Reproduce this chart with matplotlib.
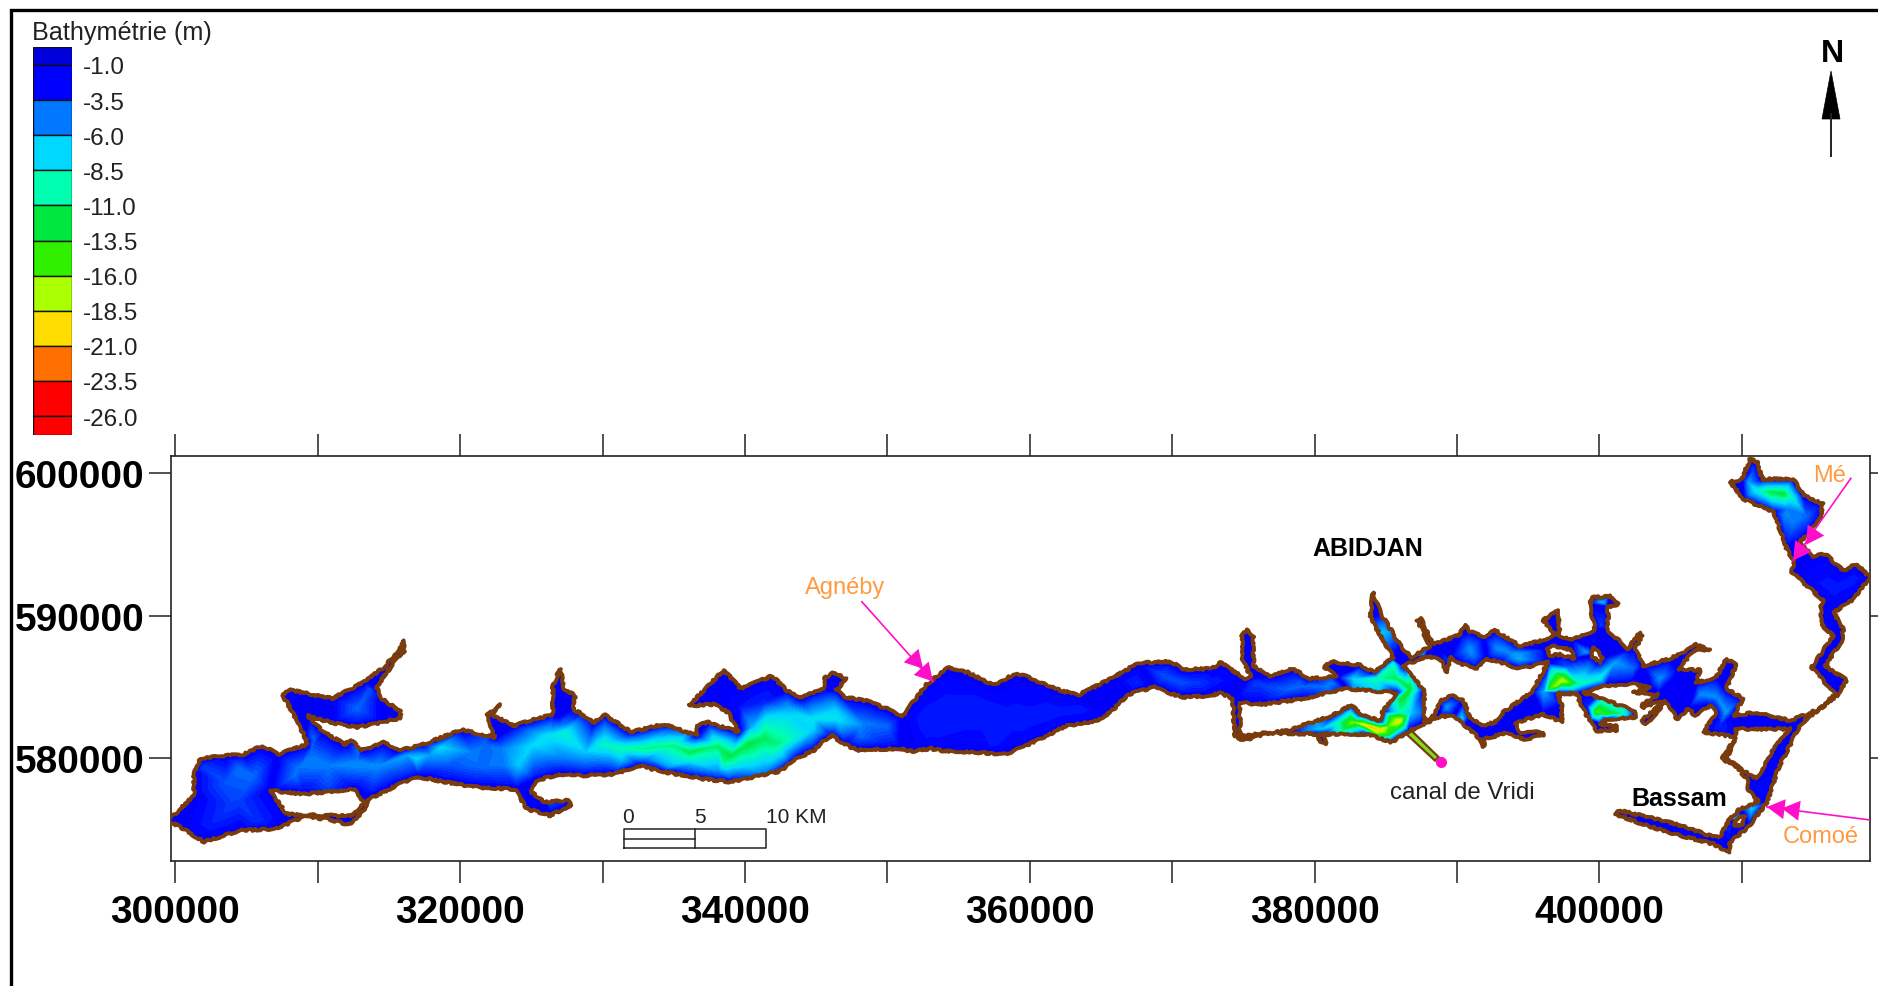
import matplotlib
matplotlib.use("Agg")
import matplotlib.pyplot as plt
import numpy as np
from matplotlib.colors import LinearSegmentedColormap
from matplotlib.patches import Polygon
from matplotlib.tri import Triangulation

plt.rcParams["font.family"] = ["Liberation Sans", "DejaVu Sans"]

# legend
legend_labels = ["-1.0", "-3.5", "-6.0", "-8.5", "-11.0", "-13.5", "-16.0", "-18.5", "-21.0", "-23.5", "-26.0"]
legend_depths = [-1.0, -3.5, -6.0, -8.5, -11.0, -13.5, -16.0, -18.5, -21.0, -23.5, -26.0]
legend_colors = ["#0000dd", "#0000ff", "#0078ff", "#00d8ff", "#00ffb0", "#00e840",
                 "#30f000", "#aaff00", "#ffdd00", "#ff7000", "#ff0000", "#ff0000"]

# shoreline of the lagoon, km (UTM), north shore west to east
north_shore = [
    (299.5, 575.65), (301.3, 577.4), (301.3, 579.0), (301.7, 580.0), (303.6, 580.2), (304.8, 580.3), (306.1, 580.9),
    (307.2, 580.3), (309.3, 581.0), (309.0, 581.7), (308.4, 582.9), (307.5, 584.5), (308.1, 584.8), (311.0, 584.2),
    (313.3, 585.4), (314.5, 586.3), (315.7, 587.5), (316.0, 588.3), (316.1, 587.5), (315.4, 586.8), (314.1, 585.0),
    (314.5, 584.2), (315.8, 583.3), (315.8, 582.8), (314.5, 582.55), (312.8, 582.2), (311.0, 582.5), (309.3, 583.0),
    (310.4, 581.85), (311.9, 581.0), (312.3, 581.3), (313.1, 580.6), (314.7, 581.15), (315.7, 580.55), (317.4, 581.0),
    (320.1, 582.0), (322.4, 581.5), (321.9, 583.1), (322.8, 583.8), (322.2, 583.1), (323.7, 582.3), (326.5, 583.1),
    (326.5, 585.1), (327.0, 586.3), (327.3, 584.9), (328.05, 584.4), (327.9, 583.5), (329.4, 582.55), (330.1, 583.1),
    (332.0, 581.85), (334.3, 582.4), (336.6, 581.6), (336.6, 582.3), (337.4, 582.55), (339.55, 581.85), (338.8, 583.25),
    (337.8, 583.8), (336.05, 583.7), (338.5, 586.2), (339.7, 584.9), (341.9, 585.8), (342.9, 584.8), (343.85, 584.2),
    (344.8, 584.65), (345.5, 584.9), (345.6, 585.7), (346.3, 586.05), (347.1, 585.6), (346.4, 584.8), (347.0, 584.3),
    (348.5, 584.05), (349.95, 583.5), (351.0, 582.9), (352.75, 585.2), (354.3, 586.4), (355.6, 586.05), (357.4, 585.15),
    (359.1, 586.0), (360.5, 585.45), (361.9, 584.85), (363.4, 584.45), (365.9, 585.7), (367.6, 586.7), (369.95, 586.8),
    (370.7, 586.25), (372.8, 586.3), (373.35, 586.75), (375.1, 585.6), (375.5, 585.8), (374.9, 586.95), (374.9, 588.6),
    (375.25, 589.05), (375.7, 588.5), (375.7, 586.5), (376.85, 585.8), (378.4, 586.3), (379.7, 585.6), (381.55, 585.75),
    (380.7, 586.4), (381.1, 586.8), (383.2, 586.55), (384.2, 586.05), (385.5, 587.1), (383.9, 589.9), (384.1, 591.65),
    (384.6, 590.25), (386.1, 587.8), (386.8, 587.1), (388.1, 587.9), (387.2, 589.7), (387.4, 589.9), (388.35, 588.0),
    (390.2, 588.7), (390.55, 589.4), (390.8, 589.0), (391.85, 588.5), (392.65, 589.0), (394.4, 587.9), (396.05, 588.3),
    (396.9, 588.7), (396.05, 589.7), (397.1, 590.4), (397.2, 588.6), (398.05, 588.4), (399.7, 589.0), (399.3, 590.85),
    (399.55, 591.3), (400.75, 591.4), (401.3, 590.85), (400.6, 590.6), (400.6, 589.0), (402.0, 587.7), (402.85, 588.85),
    (403.0, 588.6), (402.5, 587.7), (403.1, 586.5), (404.95, 587.0), (406.35, 587.7), (406.8, 588.0), (407.75, 587.6),
    (406.8, 587.7), (405.5, 586.3), (407.05, 586.2), (406.8, 585.3), (408.2, 585.7), (408.9, 587.0), (409.6, 586.6),
    (408.9, 584.9), (410.1, 584.2), (409.4, 583.0), (411.05, 583.25), (413.4, 582.65), (415.5, 583.5), (416.55, 584.5),
    (414.9, 586.4), (416.4, 588.6), (415.7, 589.3), (415.5, 590.5), (415.7, 591.1), (413.5, 593.1), (413.7, 593.8),
    (413.15, 594.7), (412.2, 597.3), (410.1, 598.2), (409.2, 599.4), (410.0, 599.6), (410.55, 601.0), (411.15, 600.8),
    (411.4, 599.6), (413.6, 599.6), (414.35, 598.45), (415.7, 597.85), (415.5, 596.8), (414.55, 595.6), (414.0, 595.2),
    (415.0, 594.2), (415.85, 594.35), (417.1, 593.2), (418.05, 593.65), (419.0, 592.7), (417.85, 591.2), (416.45, 590.25),
]
# south shore east to west
south_shore = [
    (417.1, 589.1), (417.1, 588.4), (415.85, 586.5), (417.35, 585.5), (416.65, 584.4), (414.1, 582.4), (412.55, 579.3),
    (411.75, 576.9), (410.45, 575.2), (409.15, 574.1), (409.15, 573.4), (408.0, 574.0), (405.65, 574.6), (403.3, 575.3),
    (401.1, 576.1), (401.45, 576.35), (405.4, 575.4), (408.0, 574.5), (408.45, 574.5), (409.15, 575.75), (409.85, 576.45),
    (411.15, 577.0), (410.45, 577.85), (410.35, 578.6), (409.4, 579.6), (408.6, 579.95), (409.3, 581.1), (409.6, 581.5),
    (407.3, 581.85), (408.2, 583.25), (407.75, 583.7), (406.7, 583.0), (406.25, 583.5), (405.4, 582.75), (405.2, 583.35),
    (404.6, 583.95), (403.3, 582.4), (402.95, 582.65), (404.6, 584.05), (403.1, 583.6), (402.95, 583.75), (404.15, 584.5),
    (402.35, 584.65), (403.55, 585.0), (402.25, 585.25), (400.5, 585.1), (398.85, 584.65), (402.5, 583.35), (402.5, 582.9),
    (400.5, 582.75), (400.05, 582.4), (401.2, 582.3), (401.2, 581.95), (399.8, 581.95), (399.3, 582.65), (398.6, 583.95),
    (398.5, 584.55), (397.1, 584.55), (397.35, 583.7), (397.35, 582.55), (396.05, 583.1), (394.05, 582.5), (394.4, 581.85),
    (396.05, 581.85), (396.05, 581.6), (394.65, 581.35), (393.5, 581.85), (392.8, 581.6), (391.95, 581.4), (391.85, 580.8),
    (391.6, 581.4), (390.55, 582.3), (389.75, 583.0), (388.8, 582.95), (387.4, 582.3), (386.6, 581.9), (385.4, 581.15),
    (383.65, 581.7), (380.6, 581.7), (380.8, 581.0), (380.35, 581.15), (380.25, 581.7), (376.85, 581.8), (375.0, 581.25),
    (374.4, 581.6), (374.25, 583.8), (374.3, 584.2), (373.35, 584.6), (372.65, 584.4), (370.8, 584.3), (369.75, 584.6),
    (368.7, 585.0), (366.9, 584.5), (365.65, 583.25), (364.7, 582.65), (362.6, 582.3), (361.2, 581.6), (358.4, 580.3),
    (356.75, 580.4), (353.9, 580.55), (353.0, 580.7), (351.8, 580.5), (350.9, 580.7), (347.85, 580.6), (347.0, 581.0),
    (346.1, 581.6), (345.5, 581.25), (344.8, 580.55), (343.6, 580.0), (342.45, 579.1), (339.0, 578.35), (337.2, 578.55),
    (334.3, 579.05), (332.55, 579.5), (330.8, 578.9), (328.5, 578.8), (327.0, 578.9), (325.3, 578.45), (325.0, 577.65),
    (325.85, 576.95), (327.6, 577.05), (327.75, 576.7), (326.3, 576.0), (324.7, 576.45), (324.1, 577.4), (323.8, 577.85),
    (320.9, 578.0), (317.1, 578.7), (315.7, 578.2), (313.6, 577.15), (313.2, 576.35), (312.2, 575.35), (310.7, 575.75),
    (309.0, 575.9), (306.95, 575.05), (304.5, 574.95), (302.0, 574.15), (300.55, 575.05),
]
# islands
islands = [
    [(306.65, 577.75), (309.0, 577.5), (312.5, 577.85), (313.2, 576.95), (312.5, 576.0), (310.7, 576.0), (307.8, 576.1)],
    [(374.75, 583.9), (376.4, 583.8), (379.2, 584.2), (382.25, 584.9), (385.75, 584.6), (384.8, 583.35), (384.6, 582.65),
     (383.2, 583.1), (382.6, 583.75), (381.3, 583.05), (378.05, 581.95), (374.75, 581.6)],
    [(386.2, 586.5), (387.85, 587.15), (388.8, 587.0), (389.3, 586.05), (389.5, 587.15), (390.2, 586.65), (391.4, 586.3),
     (392.1, 587.0), (393.0, 586.75), (394.4, 586.3), (396.4, 586.75), (395.25, 584.65), (393.25, 583.25), (392.65, 582.55),
     (391.7, 582.3), (390.9, 582.9), (390.45, 584.05), (389.75, 584.45), (388.8, 584.05), (388.35, 583.0), (387.7, 582.55),
     (387.7, 584.75)],
    [(396.3, 587.7), (396.9, 587.9), (398.05, 587.6), (398.2, 587.0), (397.2, 587.3), (396.5, 587.2)],
    [(399.55, 587.8), (400.25, 587.1), (400.0, 586.75), (399.45, 587.2)],
    [(409.6, 582.07), (413.4, 582.07), (412.2, 580.67), (411.05, 578.56), (409.6, 579.5), (408.95, 580.1), (409.5, 581.1)],
    [(409.5, 575.6), (410.2, 576.0), (410.0, 575.3), (409.5, 575.3)],
]
canal = [(386.8, 581.95), (388.7, 580.1), (388.45, 579.85), (386.45, 581.7)]
shore_depth = -2.0

# soundings: x km, y km, depth m
soundings = [
    (304.0, 576.7, -3.5), (303.45, 578.3, -4.0), (305.5, 578.8, -4.5), (308.4, 578.8, -4.8), (310.7, 579.5, -5.0),
    (312.8, 579.4, -5.2), (314.2, 579.5, -5.5), (316.85, 580.0, -7.5), (318.6, 580.8, -7.5), (320.9, 580.45, -5.0),
    (319.2, 579.5, -4.0), (323.0, 579.5, -4.8), (321.8, 581.0, -4.5), (324.1, 579.5, -7.0), (325.0, 580.9, -7.5),
    (326.15, 581.6, -8.0), (327.3, 581.8, -9.0), (327.3, 580.0, -5.0), (328.8, 580.45, -7.0), (330.2, 581.0, -9.5),
    (333.15, 580.7, -11.0), (336.05, 580.45, -12.5), (339.0, 580.2, -12.5), (341.3, 581.4, -12.0), (341.9, 582.3, -9.0),
    (343.05, 583.0, -7.5), (339.55, 579.5, -8.0), (336.05, 579.5, -6.0), (333.15, 580.0, -5.5), (342.75, 580.0, -6.0),
    (341.3, 583.95, -3.0), (338.4, 584.9, -2.0), (339.55, 583.7, -2.5), (340.4, 582.3, -6.0), (328.8, 583.25, -2.0),
    (326.75, 582.8, -2.5), (312.75, 583.5, -4.5), (309.85, 583.7, -2.0), (315.1, 583.25, -2.0), (313.6, 584.9, -4.0),
    (309.7, 581.4, -4.5), (344.8, 582.75, -8.0), (346.4, 583.5, -7.0), (348.3, 582.5, -5.0), (349.95, 582.3, -4.5),
    (349.5, 581.1, -3.0), (352.5, 582.8, -2.8), (356.5, 582.75, -2.8), (360.0, 582.75, -2.8), (363.5, 583.5, -2.8),
    (369.4, 585.8, -4.0), (370.55, 585.35, -4.0), (367.05, 585.35, -2.8), (372.9, 585.35, -2.8), (375.2, 584.75, -3.0),
    (376.85, 585.0, -3.8), (379.2, 585.1, -4.5), (381.3, 585.25, -5.0), (382.7, 585.6, -7.5), (384.35, 585.6, -10.0),
    (385.75, 585.6, -12.0), (385.5, 586.75, -9.0), (384.8, 588.85, -7.0), (384.25, 590.75, -2.0), (386.7, 584.9, -13.5),
    (386.45, 583.95, -11.0), (386.8, 583.25, -7.0), (386.0, 583.25, -10.0), (386.0, 582.65, -20.0), (385.3, 583.0, -13.0),
    (385.3, 581.6, -12.0), (384.6, 582.05, -21.0), (383.65, 582.3, -21.5), (382.7, 582.55, -17.0), (382.5, 583.35, -8.0),
    (381.8, 582.55, -11.0), (380.4, 582.05, -7.0), (379.2, 581.9, -4.5), (378.5, 581.85, -2.0), (384.35, 581.7, -16.0),
    (387.4, 587.35, -9.0), (388.8, 587.55, -2.0), (390.9, 587.7, -5.5), (392.8, 587.7, -5.5), (394.4, 587.35, -6.0),
    (387.65, 588.6, -3.0), (389.25, 583.6, -6.0), (390.3, 582.75, -8.0), (391.6, 581.95, -2.0), (392.55, 582.1, -2.0),
    (394.4, 587.0, -6.5), (393.7, 587.45, -5.5), (397.0, 585.1, -18.0), (396.5, 584.9, -15.0), (397.45, 585.45, -19.0),
    (398.65, 585.25, -10.0), (396.05, 584.65, -6.0), (397.7, 586.5, -4.0), (399.1, 587.45, -6.0), (400.0, 585.6, -9.0),
    (401.1, 586.75, -6.0), (400.25, 590.95, -7.5), (400.15, 589.3, -3.5), (402.4, 586.3, -4.5), (404.25, 585.6, -5.5),
    (405.4, 585.8, -2.0), (407.05, 584.5, -5.5), (408.25, 584.3, -5.5), (406.8, 585.35, -2.0), (408.9, 583.25, -6.0),
    (408.45, 582.3, -3.0), (399.8, 583.25, -16.0), (400.5, 583.1, -14.0), (401.55, 583.15, -11.0), (399.1, 583.7, -3.0),
    (411.95, 598.7, -12.5), (412.9, 598.6, -13.0), (413.6, 598.3, -9.0), (411.05, 598.8, -9.0), (410.45, 599.4, -6.0),
    (410.8, 600.3, -3.5), (413.6, 596.55, -5.0), (414.55, 597.0, -4.5), (413.15, 597.5, -5.0), (416.4, 591.9, -2.8),
    (417.85, 592.6, -2.8), (410.7, 576.45, -7.5), (409.4, 575.75, -8.0), (409.15, 575.15, -3.0), (411.75, 578.3, -2.5),
    (304.45, 579.4, -4.5), (308.65, 579.4, -4.8), (312.85, 579.85, -5.0), (316.2, 580.25, -6.0), (309.5, 580.5, -4.5),
    (312.85, 580.7, -4.5), (304.45, 576.9, -3.5), (302.8, 575.6, -3.0), (305.7, 575.6, -3.2), (301.9, 579.4, -3.5),
    (321.25, 579.4, -4.5), (317.9, 580.25, -6.0), (326.3, 576.9, -3.8), (322.95, 580.7, -5.0), (327.1, 582.35, -5.0),
    (329.65, 581.1, -8.0), (331.3, 580.7, -10.0), (331.35, 579.8, -6.5), (334.7, 579.4, -6.0), (338.1, 579.0, -5.0),
    (341.4, 579.0, -5.0), (338.05, 580.9, -11.5), (341.45, 582.8, -8.0), (343.1, 583.6, -6.0), (346.45, 582.75, -8.0),
    (344.8, 581.9, -7.0), (348.15, 582.35, -5.5), (348.15, 581.5, -4.5), (346.45, 581.1, -5.0), (354.0, 583.6, -2.8),
    (356.55, 583.6, -2.8), (359.05, 582.8, -2.8), (361.6, 583.2, -2.8), (353.2, 581.9, -2.8), (357.4, 581.1, -2.8),
    (367.5, 585.3, -3.0), (371.7, 585.3, -3.5), (378.4, 584.9, -4.5), (375.9, 585.3, -3.5), (380.9, 585.1, -5.0),
    (391.0, 587.4, -5.5), (394.4, 587.15, -6.0), (389.3, 587.0, -3.5), (412.9, 597.1, -5.0),
    (335.0, 580.9, -11.0), (340.0, 580.9, -12.5), (342.3, 581.0, -11.0), (338.5, 579.7, -10.5), (336.0, 580.0, -9.5),
    (386.0, 584.3, -13.0), (385.2, 582.3, -16.0), (385.7, 582.0, -13.0),
]

x_ticks = np.arange(300000, 420000, 10000)
x_tick_labels = ["300000", "", "320000", "", "340000", "", "360000", "", "380000", "", "400000", ""]
y_ticks = [580000, 590000, 600000]
y_tick_labels = ["580000", "590000", "600000"]

# river arrows: name, label position, tail, tip, second head (km)
arrows = [
    ("Agnéby", (347.0, 592.05), (348.2, 591.0), (353.2, 585.4), (352.5, 586.3)),
    ("Mé", (416.15, 599.9), (417.65, 599.66), (413.6, 593.9), (414.5, 595.0)),
    ("Comoé", (415.55, 574.55), (418.9, 575.7), (411.75, 576.6), (412.8, 576.5)),
]
vridi_mouth = (388.9, 579.75)
places = [("ABIDJAN", 383.7, 594.75, "bold", "black"), ("Bassam", 405.6, 577.25, "bold", "black"),
          ("canal de Vridi", 390.4, 577.65, "normal", "#222222")]

W, H = 1878, 987
BROWN = "#7a3c0c"
PINK = "#ff10c8"
ORANGE = "#ff9a40"
KM = 1000.0

fig = plt.figure(figsize=(W / 100, H / 100), dpi=100, facecolor="white")


def px_axes(left, top, right, bottom):
    return fig.add_axes([left / W, 1 - bottom / H, (right - left) / W, (bottom - top) / H])


# main map
ax = px_axes(171, 457, 1870, 862)
ax.set_xlim(299684, 418996)
ax.set_ylim(572807, 601228)

shore = np.array(north_shore + south_shore) * KM
all_pts = [shore] + [np.array(i) * KM for i in islands]
coast = np.unique(np.vstack(all_pts), axis=0)
snd = np.array(soundings)
grid_x = np.r_[coast[:, 0], snd[:, 0] * KM]
grid_y = np.r_[coast[:, 1], snd[:, 1] * KM]
depth = np.r_[np.full(len(coast), shore_depth), snd[:, 2]]

edges = np.array([0.28] + legend_depths + [-27.35])
centres = (edges[:-1] + edges[1:]) / 2
pos = (centres[::-1] + 27.35) / 27.63
stops = [(0.0, legend_colors[-1])] + list(zip(pos, legend_colors[::-1])) + [(1.0, legend_colors[0])]
cmap = LinearSegmentedColormap.from_list("bathy", stops, N=512)

water = Polygon(shore, closed=True, facecolor="none", edgecolor="none", transform=ax.transData)
ax.add_patch(water)
tri = Triangulation(grid_x, grid_y)
cs = ax.tricontourf(tri, depth, levels=np.linspace(-27.35, 0.28, 80), cmap=cmap, vmin=-27.35, vmax=0.28, zorder=1)
cs.set_clip_path(water)

ax.add_patch(Polygon(np.array(canal) * KM, closed=True, facecolor="#7fdc20", edgecolor=BROWN, lw=1.6, zorder=2))
outline = Polygon(shore, closed=True, facecolor="none", edgecolor=BROWN, lw=2.8, joinstyle="round", zorder=3)
outline.set_sketch_params(1.0, 14, 24)
ax.add_patch(outline)
for isl in islands:
    p = Polygon(np.array(isl) * KM, closed=True, facecolor="white", edgecolor=BROWN, lw=2.8, joinstyle="round", zorder=3)
    p.set_sketch_params(1.0, 14, 24)
    ax.add_patch(p)

for name, lab, tail, tip, head2 in arrows:
    ax.text(lab[0] * KM, lab[1] * KM, name, color=ORANGE, fontsize=17, ha="center", va="center", zorder=6)
    ax.plot([tail[0] * KM, tip[0] * KM], [tail[1] * KM, tip[1] * KM], color=PINK, lw=1.2, zorder=5)
    for end in (tip, head2):
        ax.annotate("", xy=(end[0] * KM, end[1] * KM), xytext=(tail[0] * KM, tail[1] * KM),
                    arrowprops=dict(arrowstyle="-|>,head_length=0.8,head_width=0.45", color=PINK, lw=0, mutation_scale=16,
                                    shrinkA=0, shrinkB=0), zorder=5)
ax.plot(vridi_mouth[0] * KM, vridi_mouth[1] * KM, "o", color=PINK, ms=7, zorder=5)

for name, xk, yk, weight, col in places:
    size = 18 if weight == "bold" else 17.3
    ax.text(xk * KM, yk * KM, name, fontsize=size, fontweight=weight, color=col, ha="center", va="center", zorder=6)

# scale bar
sb_x = [331500, 336500, 341500]
sb_y = [573700, 574370, 575050]
ax.plot([sb_x[0], sb_x[2], sb_x[2], sb_x[0], sb_x[0]], [sb_y[0], sb_y[0], sb_y[2], sb_y[2], sb_y[0]], color="#222222", lw=1.1, zorder=4)
ax.plot([sb_x[1], sb_x[1]], [sb_y[0], sb_y[2]], color="#222222", lw=1.1, zorder=4)
ax.plot([sb_x[0], sb_x[1]], [sb_y[1], sb_y[1]], color="#222222", lw=1.1, zorder=4)
for txt, xv in zip(["0", "5", "10 KM"], [331800, 336800, 343600]):
    ax.text(xv, 575900, txt, fontsize=15, color="#222222", ha="center", va="center")

ax.set_xticks(x_ticks)
ax.set_xticklabels(x_tick_labels, fontsize=28, fontweight="bold")
ax.set_yticks(y_ticks)
ax.set_yticklabels(y_tick_labels, fontsize=28, fontweight="bold")
ax.tick_params(axis="x", which="both", top=True, bottom=True, length=16, width=1.1, color="#222222", pad=8)
ax.tick_params(axis="y", which="both", left=True, right=True, length=16, width=1.1, color="#222222", pad=3)
for sp in ax.spines.values():
    sp.set_linewidth(1.2)
    sp.set_color("#222222")

# legend
leg = px_axes(33, 48, 72, 436)
leg.barh(centres, 1, height=np.diff(edges[::-1])[::-1], left=0, color=legend_colors, edgecolor="#111111", linewidth=1.0)
leg.set_xlim(0, 1)
leg.set_ylim(-27.35, 0.28)
leg.set_xticks([])
leg.yaxis.tick_right()
leg.set_yticks(legend_depths)
leg.set_yticklabels(legend_labels, fontsize=17.5, color="#222222")
leg.tick_params(axis="y", length=0, pad=8)
for sp in leg.spines.values():
    sp.set_visible(False)

# overlay in pixels: frame, legend title, north arrow
over = fig.add_axes([0, 0, 1, 1], facecolor="none")
over.set_xlim(0, W)
over.set_ylim(H, 0)
over.axis("off")
over.plot([11, 11, W], [H, 11, 11], color="black", lw=2.4, solid_joinstyle="miter")
over.text(32, 33, "Bathymétrie (m)", fontsize=18.2, color="#222222", ha="left", va="center")
over.text(1832, 54, "N", fontsize=23, fontweight="bold", color="black", ha="center", va="center")
over.plot([1831, 1831], [115, 157], color="#222222", lw=1.4)
over.add_patch(Polygon([(1831, 72), (1840, 120), (1822, 120)], closed=True, facecolor="black", edgecolor="black", lw=0.5))

fig.savefig("out.png", dpi=100)
